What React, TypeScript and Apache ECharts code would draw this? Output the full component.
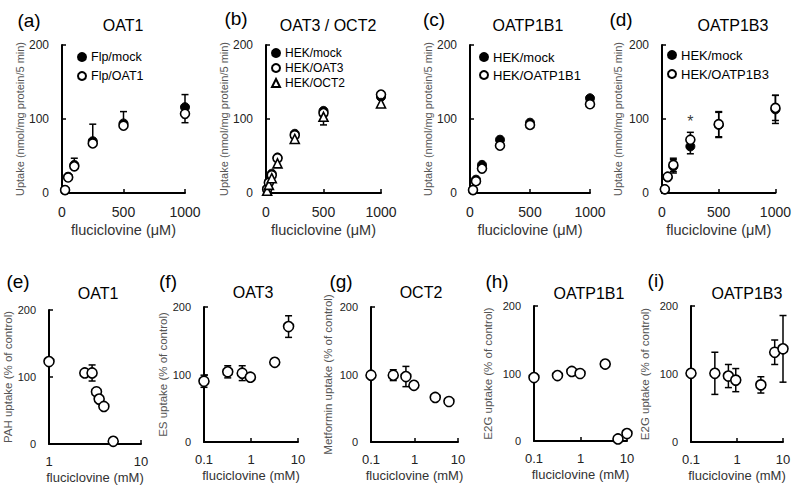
import React, { useEffect, useRef } from "react";
import * as echarts from "echarts";

const FONT = '"Liberation Sans", Arial, Helvetica, sans-serif';

// ---------- (a) OAT1, fluciclovine uptake ----------
const concA = [25, 50, 100, 250, 500, 1000];
const mockA = [4, 22, 38, 70, 94, 116];
const oat1A = [4, 21, 36, 67, 91, 107];
const mockAPlus = [0, 0, 9, 23, 16, 17];
const oat1AMinus = [0, 0, 0, 0, 0, 12];

// ---------- (b) OAT3 / OCT2 ----------
const concB = [10, 25, 50, 100, 250, 500, 1000];
const mockB = [6, 15, 26, 48, 80, 111, 130];
const oat3B = [5, 14, 24, 47, 78, 108, 133];
const oct2B = [3, 11, 20, 40, 73, 103, 121];
const oat3BMinus = [0, 0, 0, 0, 0, 0, 6];
const oct2BMinus = [0, 0, 0, 0, 0, 11, 0];

// ---------- (c) OATP1B1 ----------
const concC = [25, 50, 100, 250, 500, 1000];
const mockC = [4, 18, 38, 72, 95, 128];
const oatp1b1C = [4, 16, 33, 64, 92, 120];

// ---------- (d) OATP1B3 ----------
const concD = [25, 50, 100, 250, 500, 1000];
const mockD = [5, 21, 36, 63, 92, 113];
const oatp1b3D = [5, 22, 38, 72, 93, 115];
const mockDErr = [0, 0, 9, 10, 17, 19];
const oatp1b3DErr = [0, 0, 9, 10, 17, 17];
const starD = [[250, 96]];

// ---------- (e) OAT1 inhibition ----------
const concE = [1, 2.45, 2.94, 3.28, 3.51, 3.95, 4.99];
const pahE = [123, 106, 106, 78, 67, 56, 4];
const pahEErr = [0, 0, 12, 0, 0, 0, 0];

// ---------- (f) OAT3 ----------
const concF = [0.1, 0.32, 0.65, 0.97, 3.2, 6.3];
const esF = [90, 104, 102, 96, 118, 171];
const esFErr = [9, 9, 11, 0, 0, 16];

// ---------- (g) OCT2 ----------
const concG = [0.1, 0.325, 0.635, 0.97, 3.0, 6.2];
const metG = [99, 99, 97, 84, 66, 60];
const metGErr = [0, 8, 15, 0, 0, 0];

// ---------- (h) OATP1B1 ----------
const concH = [0.1, 0.32, 0.65, 0.98, 3.4, 6.4, 10];
const e2gH = [94, 97, 103, 100, 114, 3, 11];
const e2gHErr = [0, 0, 0, 0, 4, 0, 0];

// ---------- (i) OATP1B3 ----------
const concI = [0.1, 0.33, 0.65, 0.94, 3.3, 6.6, 10];
const e2gI = [101, 101, 97, 91, 84, 132, 137];
const e2gIErr = [0, 31, 17, 17, 12, 18, 49];

const yTicks = { min: 0, max: 200, interval: 100 };

const axisLine = { show: true, onZero: false, lineStyle: { color: "#000", width: 2 } };
const axisTick = { show: true, inside: true, length: 4, lineStyle: { color: "#000", width: 1.5 } };

function valX(idx: number) {
  return {
    type: "value", gridIndex: idx, min: 0, max: 1000, interval: 500,
    name: "fluciclovine (μM)", nameLocation: "middle", nameGap: 29,
    nameTextStyle: { fontSize: 14.5, color: "#333", fontFamily: FONT },
    axisLine, axisTick,
    axisLabel: { fontSize: 14, margin: 12, color: "#222", fontFamily: FONT, formatter: (v: number) => String(v) },
    splitLine: { show: false },
  };
}

function logX(idx: number, min: number) {
  return {
    type: "log", logBase: 10, gridIndex: idx, min, max: 10,
    name: "fluciclovine (mM)", nameLocation: "middle", nameGap: 27,
    nameTextStyle: { fontSize: 13, color: "#333", fontFamily: FONT },
    axisLine, axisTick,
    axisLabel: {
      fontSize: 13, margin: 11, color: "#222", fontFamily: FONT,
      formatter: (v: number) => String(Number(Number(v).toPrecision(3))),
    },
    splitLine: { show: false }, minorTick: { show: false },
  };
}

function valY(idx: number, name: string, gap: number, labelSize: number, nameSize: number) {
  return {
    type: "value", gridIndex: idx, ...yTicks,
    name, nameLocation: "middle", nameGap: gap,
    nameTextStyle: { fontSize: nameSize, color: "#555", fontFamily: FONT },
    axisLine, axisTick,
    axisLabel: { fontSize: labelSize, margin: 13, color: "#222", fontFamily: FONT, formatter: (v: number) => String(v) },
    splitLine: { show: false },
  };
}

function pts(idx: number, name: string, xs: number[], ys: number[], kind: string, size: number) {
  return {
    type: "scatter", name, xAxisIndex: idx, yAxisIndex: idx,
    data: xs.map((x, i) => [x, ys[i]]),
    symbol: kind === "tri" ? "triangle" : "circle",
    symbolSize: size,
    itemStyle: kind === "filled"
      ? { color: "#000", borderColor: "#000", borderWidth: 1, opacity: 1 }
      : { color: "#fff", borderColor: "#000", borderWidth: 1.6, opacity: 1 },
    clip: false, silent: true, z: 3,
    emphasis: { disabled: true },
  };
}

const errRender = (_params: any, api: any) => {
  const x = api.value(0), lo = api.value(1), hi = api.value(2), y = api.value(3);
  const pLo = api.coord([x, lo]);
  const pHi = api.coord([x, hi]);
  const st = { stroke: "#000", lineWidth: 1.5 };
  const cap = 3.5;
  const children: any[] = [
    { type: "line", shape: { x1: pLo[0], y1: pLo[1], x2: pHi[0], y2: pHi[1] }, style: st },
  ];
  if (hi > y) children.push({ type: "line", shape: { x1: pHi[0] - cap, y1: pHi[1], x2: pHi[0] + cap, y2: pHi[1] }, style: st });
  if (lo < y) children.push({ type: "line", shape: { x1: pLo[0] - cap, y1: pLo[1], x2: pLo[0] + cap, y2: pLo[1] }, style: st });
  return { type: "group", children };
};

function errSeries(idx: number, xs: number[], ys: number[], plus: number[], minus: number[]) {
  const data: number[][] = [];
  xs.forEach((x, i) => {
    const p = plus[i] || 0, m = minus[i] || 0;
    if (p > 0 || m > 0) data.push([x, ys[i] - m, ys[i] + p, ys[i]]);
  });
  return {
    type: "custom", xAxisIndex: idx, yAxisIndex: idx, data,
    renderItem: errRender, encode: { x: 0, y: [1, 2] }, silent: true, z: 1, clip: false,
  };
}

const zeros = (n: number) => new Array(n).fill(0);

const panelLetters: [string, number, number][] = [
  ["(a)", 29, 20], ["(b)", 236, 18], ["(c)", 434, 19], ["(d)", 621, 19],
  ["(e)", 18, 281], ["(f)", 168, 281], ["(g)", 341, 281], ["(h)", 497, 281], ["(i)", 656, 280],
];
const panelTitles: [string, number, number][] = [
  ["OAT1", 123, 25], ["OAT3 / OCT2", 328, 25], ["OATP1B1", 528, 25], ["OATP1B3", 733, 25],
  ["OAT1", 98, 293], ["OAT3", 253, 292], ["OCT2", 421, 292], ["OATP1B1", 589, 293], ["OATP1B3", 747, 293],
];

function legendBox(names: { name: string; icon: string }[], left: number, top: number, lh: number, fs: number) {
  return {
    data: names, left, top, orient: "vertical", itemWidth: 8, itemHeight: 8, itemGap: 0, padding: 0,
    selectedMode: false,
    textStyle: { fontSize: fs, lineHeight: lh, fontFamily: FONT, color: "#000" },
  };
}

export default function App() {
  const ref = useRef<HTMLDivElement>(null);
  useEffect(() => {
    document.body.style.margin = "0";
    if (!ref.current) return;
    const chart = echarts.init(ref.current, null, { renderer: "svg" });
    const option: any = {
      animation: false,
      backgroundColor: "#fff",
      grid: [
        { left: 62, top: 45, width: 123, height: 148 },
        { left: 266, top: 45, width: 115, height: 148 },
        { left: 470, top: 45, width: 120, height: 148 },
        { left: 662, top: 45, width: 117, height: 148 },
        { left: 49, top: 310, width: 92, height: 134 },
        { left: 204, top: 307, width: 94, height: 135 },
        { left: 371, top: 307, width: 87, height: 135 },
        { left: 534, top: 306, width: 93, height: 135 },
        { left: 691, top: 306, width: 92, height: 136 },
      ],
      xAxis: [valX(0), valX(1), valX(2), valX(3), logX(4, 1), logX(5, 0.1), logX(6, 0.1), logX(7, 0.1), logX(8, 0.1)],
      yAxis: [
        valY(0, "Uptake (nmol/mg protein/5 min)", 36, 12, 11),
        valY(1, "Uptake (nmol/mg protein/5 min)", 37, 12, 11),
        valY(2, "Uptake (nmol/mg protein/5 min)", 37, 12, 11),
        valY(3, "Uptake (nmol/mg protein/5 min)", 39, 12, 11),
        valY(4, "PAH uptake (% of control)", 33, 11, 11.5),
        valY(5, "ES uptake (% of control)", 35, 11, 11.5),
        valY(6, "Metformin uptake (% of control)", 37, 11, 11.5),
        valY(7, "E2G uptake (% of control)", 40, 11, 11.5),
        valY(8, "E2G uptake (% of control)", 40, 11, 11.5),
      ],
      legend: [
        legendBox([{ name: "Flp/mock", icon: "circle" }, { name: "Flp/OAT1", icon: "circle" }], 77, 47.5, 19, 12.5),
        legendBox([{ name: "HEK/mock", icon: "circle" }, { name: "HEK/OAT3", icon: "circle" }, { name: "HEK/OCT2", icon: "triangle" }], 271, 45.5, 15, 12),
        legendBox([{ name: "HEK/mock", icon: "circle" }, { name: "HEK/OATP1B1", icon: "circle" }], 479, 48, 18, 13),
        legendBox([{ name: "HEK/mock", icon: "circle" }, { name: "HEK/OATP1B3", icon: "circle" }], 667, 45.5, 19, 13),
      ],
      graphic: [
        ...panelLetters.map(([t, x, y]) => ({
          type: "text", x, y, silent: true,
          style: { text: t, fontSize: 19, fontFamily: FONT, fill: "#000", textAlign: "center", textVerticalAlign: "middle", align: "center", verticalAlign: "middle" },
        })),
        ...panelTitles.map(([t, x, y]) => ({
          type: "text", x, y, silent: true,
          style: { text: t, fontSize: 16, fontFamily: FONT, fill: "#000", textAlign: "center", textVerticalAlign: "middle", align: "center", verticalAlign: "middle" },
        })),
      ],
      series: [
        // (a)
        errSeries(0, concA, mockA, mockAPlus, zeros(concA.length)),
        errSeries(0, concA, oat1A, zeros(concA.length), oat1AMinus),
        pts(0, "Flp/mock", concA, mockA, "filled", 9),
        pts(0, "Flp/OAT1", concA, oat1A, "open", 9),
        // (b)
        errSeries(1, concB, oat3B, zeros(concB.length), oat3BMinus),
        errSeries(1, concB, oct2B, zeros(concB.length), oct2BMinus),
        pts(1, "HEK/mock", concB, mockB, "filled", 9),
        pts(1, "HEK/OAT3", concB, oat3B, "open", 9),
        pts(1, "HEK/OCT2", concB, oct2B, "tri", 9),
        // (c)
        pts(2, "HEK/mock", concC, mockC, "filled", 9),
        pts(2, "HEK/OATP1B1", concC, oatp1b1C, "open", 9),
        // (d)
        errSeries(3, concD, mockD, mockDErr, mockDErr),
        errSeries(3, concD, oatp1b3D, oatp1b3DErr, oatp1b3DErr),
        pts(3, "HEK/mock", concD, mockD, "filled", 9),
        pts(3, "HEK/OATP1B3", concD, oatp1b3D, "open", 9),
        {
          type: "scatter", xAxisIndex: 3, yAxisIndex: 3, data: starD, symbolSize: 1, silent: true,
          itemStyle: { color: "rgba(0,0,0,0)" },
          label: { show: true, position: "inside", formatter: "*", fontSize: 16, color: "#000", fontFamily: FONT },
        },
        // (e)-(i)
        errSeries(4, concE, pahE, pahEErr, pahEErr),
        pts(4, "PAH", concE, pahE, "open", 10),
        errSeries(5, concF, esF, esFErr, esFErr),
        pts(5, "ES", concF, esF, "open", 10),
        errSeries(6, concG, metG, metGErr, metGErr),
        pts(6, "Metformin", concG, metG, "open", 10),
        errSeries(7, concH, e2gH, e2gHErr, e2gHErr),
        pts(7, "E2G-1B1", concH, e2gH, "open", 10),
        errSeries(8, concI, e2gI, e2gIErr, e2gIErr),
        pts(8, "E2G-1B3", concI, e2gI, "open", 10),
      ],
    };
    chart.setOption(option);
    return () => chart.dispose();
  }, []);
  return (
    <div
      ref={ref}
      style={{ position: "fixed", left: 0, top: 0, width: 794, height: 489, background: "#fff" }}
    />
  );
}
